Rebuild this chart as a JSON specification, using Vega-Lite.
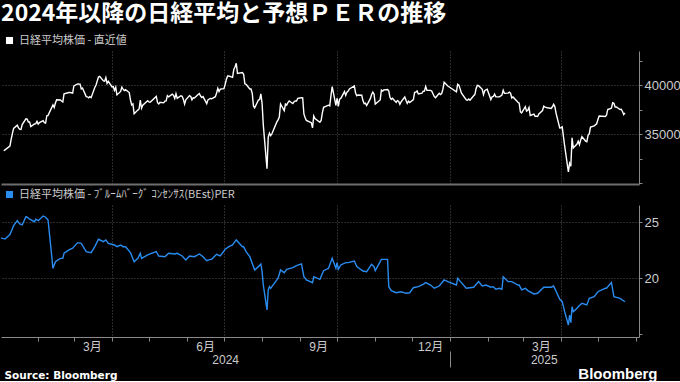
{
"$schema": "https://vega.github.io/schema/vega-lite/v6.json",
"background": "#000000",
"padding": {"left": 0, "top": 3, "right": 0, "bottom": 0},
"title": {"text": "2024年以降の日経平均と予想ＰＥＲの推移", "anchor": "start", "font": "Noto Sans CJK JP", "fontSize": 23, "fontWeight": "bold", "color": "#ffffff", "offset": 9, "dx": 1},
"spacing": 5,
"resolve": {"scale": {"color": "independent", "x": "independent", "y": "independent"}, "legend": {"color": "independent"}},
"datasets": {
"nk": [
{"d":"2024-01-04","v":33288},{"d":"2024-01-05","v":33377},{"d":"2024-01-09","v":33763},{"d":"2024-01-10","v":34441},{"d":"2024-01-11","v":35049},{"d":"2024-01-12","v":35577},{"d":"2024-01-15","v":35901},{"d":"2024-01-16","v":35619},{"d":"2024-01-17","v":35477},{"d":"2024-01-18","v":35466},{"d":"2024-01-19","v":35963},{"d":"2024-01-22","v":36546},{"d":"2024-01-23","v":36517},{"d":"2024-01-24","v":36226},{"d":"2024-01-25","v":36236},{"d":"2024-01-26","v":35751},{"d":"2024-01-29","v":36026},{"d":"2024-01-30","v":36065},{"d":"2024-01-31","v":36286},
{"d":"2024-02-01","v":36011},{"d":"2024-02-02","v":36158},{"d":"2024-02-05","v":36354},{"d":"2024-02-06","v":36160},{"d":"2024-02-07","v":36119},{"d":"2024-02-08","v":36863},{"d":"2024-02-09","v":36897},{"d":"2024-02-13","v":37963},{"d":"2024-02-14","v":37703},{"d":"2024-02-15","v":38157},{"d":"2024-02-16","v":38487},{"d":"2024-02-19","v":38470},{"d":"2024-02-20","v":38363},{"d":"2024-02-21","v":38262},{"d":"2024-02-22","v":39098},{"d":"2024-02-26","v":39233},{"d":"2024-02-27","v":39239},{"d":"2024-02-28","v":39208},{"d":"2024-02-29","v":39166},
{"d":"2024-03-01","v":39910},{"d":"2024-03-04","v":40109},{"d":"2024-03-05","v":40097},{"d":"2024-03-06","v":40090},{"d":"2024-03-07","v":39598},{"d":"2024-03-08","v":39688},{"d":"2024-03-11","v":38820},{"d":"2024-03-12","v":38797},{"d":"2024-03-13","v":38696},{"d":"2024-03-14","v":38807},{"d":"2024-03-15","v":38708},{"d":"2024-03-18","v":39740},{"d":"2024-03-19","v":40003},{"d":"2024-03-21","v":40815},{"d":"2024-03-22","v":40888},{"d":"2024-03-25","v":40414},{"d":"2024-03-26","v":40398},{"d":"2024-03-27","v":40762},{"d":"2024-03-28","v":40168},{"d":"2024-03-29","v":40369},
{"d":"2024-04-01","v":39803},{"d":"2024-04-02","v":39838},{"d":"2024-04-03","v":39451},{"d":"2024-04-04","v":39773},{"d":"2024-04-05","v":38992},{"d":"2024-04-08","v":39347},{"d":"2024-04-09","v":39773},{"d":"2024-04-10","v":39581},{"d":"2024-04-11","v":39442},{"d":"2024-04-12","v":39523},{"d":"2024-04-15","v":39232},{"d":"2024-04-16","v":38471},{"d":"2024-04-17","v":37962},{"d":"2024-04-18","v":38079},{"d":"2024-04-19","v":37068},{"d":"2024-04-22","v":37438},{"d":"2024-04-23","v":37552},{"d":"2024-04-24","v":38460},{"d":"2024-04-25","v":37628},{"d":"2024-04-26","v":37934},{"d":"2024-04-30","v":38405},
{"d":"2024-05-01","v":38274},{"d":"2024-05-02","v":38236},{"d":"2024-05-07","v":38835},{"d":"2024-05-08","v":38202},{"d":"2024-05-09","v":38073},{"d":"2024-05-10","v":38229},{"d":"2024-05-13","v":38179},{"d":"2024-05-14","v":38356},{"d":"2024-05-15","v":38385},{"d":"2024-05-16","v":38920},{"d":"2024-05-17","v":38787},{"d":"2024-05-20","v":39069},{"d":"2024-05-21","v":38946},{"d":"2024-05-22","v":38617},{"d":"2024-05-23","v":39103},{"d":"2024-05-24","v":38646},{"d":"2024-05-27","v":38900},{"d":"2024-05-28","v":38855},{"d":"2024-05-29","v":38556},{"d":"2024-05-30","v":38054},{"d":"2024-05-31","v":38487},
{"d":"2024-06-03","v":38923},{"d":"2024-06-04","v":38837},{"d":"2024-06-05","v":38490},{"d":"2024-06-06","v":38703},{"d":"2024-06-07","v":38683},{"d":"2024-06-10","v":39038},{"d":"2024-06-11","v":39134},{"d":"2024-06-12","v":38876},{"d":"2024-06-13","v":38720},{"d":"2024-06-14","v":38814},{"d":"2024-06-17","v":38102},{"d":"2024-06-18","v":38482},{"d":"2024-06-19","v":38570},{"d":"2024-06-20","v":38633},{"d":"2024-06-21","v":38596},{"d":"2024-06-24","v":38804},{"d":"2024-06-25","v":39173},{"d":"2024-06-26","v":39667},{"d":"2024-06-27","v":39341},{"d":"2024-06-28","v":39583},
{"d":"2024-07-01","v":39631},{"d":"2024-07-02","v":40074},{"d":"2024-07-03","v":40580},{"d":"2024-07-04","v":40913},{"d":"2024-07-05","v":40912},{"d":"2024-07-08","v":40780},{"d":"2024-07-09","v":41580},{"d":"2024-07-10","v":41831},{"d":"2024-07-11","v":42224},{"d":"2024-07-12","v":41190},{"d":"2024-07-16","v":41275},{"d":"2024-07-17","v":41098},{"d":"2024-07-18","v":40126},{"d":"2024-07-19","v":40063},{"d":"2024-07-22","v":39599},{"d":"2024-07-23","v":39594},{"d":"2024-07-24","v":39154},{"d":"2024-07-25","v":37869},{"d":"2024-07-26","v":37667},{"d":"2024-07-29","v":38468},{"d":"2024-07-30","v":38525},{"d":"2024-07-31","v":39101},
{"d":"2024-08-01","v":38126},{"d":"2024-08-02","v":35909},{"d":"2024-08-05","v":31458},{"d":"2024-08-06","v":34675},{"d":"2024-08-07","v":35089},{"d":"2024-08-08","v":34831},{"d":"2024-08-09","v":35025},{"d":"2024-08-13","v":36232},{"d":"2024-08-14","v":36442},{"d":"2024-08-15","v":36726},{"d":"2024-08-16","v":38062},{"d":"2024-08-19","v":37388},{"d":"2024-08-20","v":38062},{"d":"2024-08-21","v":37951},{"d":"2024-08-22","v":38211},{"d":"2024-08-23","v":38364},{"d":"2024-08-26","v":38110},{"d":"2024-08-27","v":38288},{"d":"2024-08-28","v":38371},{"d":"2024-08-29","v":38362},{"d":"2024-08-30","v":38647},
{"d":"2024-09-02","v":38700},{"d":"2024-09-03","v":38686},{"d":"2024-09-04","v":37047},{"d":"2024-09-05","v":36657},{"d":"2024-09-06","v":36391},{"d":"2024-09-09","v":36215},{"d":"2024-09-10","v":36159},{"d":"2024-09-11","v":35619},{"d":"2024-09-12","v":36833},{"d":"2024-09-13","v":36581},{"d":"2024-09-17","v":36203},{"d":"2024-09-18","v":36380},{"d":"2024-09-19","v":37155},{"d":"2024-09-20","v":37723},{"d":"2024-09-24","v":37940},{"d":"2024-09-25","v":37870},{"d":"2024-09-26","v":38925},{"d":"2024-09-27","v":39829},{"d":"2024-09-30","v":37919},
{"d":"2024-10-01","v":38651},{"d":"2024-10-02","v":37808},{"d":"2024-10-03","v":38552},{"d":"2024-10-04","v":38635},{"d":"2024-10-07","v":39332},{"d":"2024-10-08","v":38937},{"d":"2024-10-09","v":39277},{"d":"2024-10-10","v":39380},{"d":"2024-10-11","v":39605},{"d":"2024-10-15","v":39910},{"d":"2024-10-16","v":39180},{"d":"2024-10-17","v":38911},{"d":"2024-10-18","v":38981},{"d":"2024-10-21","v":38954},{"d":"2024-10-22","v":38411},{"d":"2024-10-23","v":38104},{"d":"2024-10-24","v":38143},{"d":"2024-10-25","v":37913},{"d":"2024-10-28","v":38605},{"d":"2024-10-29","v":39027},{"d":"2024-10-30","v":39277},{"d":"2024-10-31","v":39081},
{"d":"2024-11-01","v":38053},{"d":"2024-11-05","v":38474},{"d":"2024-11-06","v":39480},{"d":"2024-11-07","v":39381},{"d":"2024-11-08","v":39500},{"d":"2024-11-11","v":39533},{"d":"2024-11-12","v":39376},{"d":"2024-11-13","v":38721},{"d":"2024-11-14","v":38535},{"d":"2024-11-15","v":38642},{"d":"2024-11-18","v":38220},{"d":"2024-11-19","v":38414},{"d":"2024-11-20","v":38352},{"d":"2024-11-21","v":38026},{"d":"2024-11-22","v":38283},{"d":"2024-11-25","v":38780},{"d":"2024-11-26","v":38442},{"d":"2024-11-27","v":38134},{"d":"2024-11-28","v":38349},{"d":"2024-11-29","v":38208},
{"d":"2024-12-02","v":38513},{"d":"2024-12-03","v":39248},{"d":"2024-12-04","v":39276},{"d":"2024-12-05","v":39395},{"d":"2024-12-06","v":39091},{"d":"2024-12-09","v":39160},{"d":"2024-12-10","v":39367},{"d":"2024-12-11","v":39372},{"d":"2024-12-12","v":39849},{"d":"2024-12-13","v":39470},{"d":"2024-12-16","v":39457},{"d":"2024-12-17","v":39364},{"d":"2024-12-18","v":39081},{"d":"2024-12-19","v":38813},{"d":"2024-12-20","v":38701},{"d":"2024-12-23","v":39161},{"d":"2024-12-24","v":39036},{"d":"2024-12-25","v":39130},{"d":"2024-12-26","v":39568},{"d":"2024-12-27","v":40281},{"d":"2024-12-30","v":39894},
{"d":"2025-01-06","v":39307},{"d":"2025-01-07","v":40083},{"d":"2025-01-08","v":39981},{"d":"2025-01-09","v":39605},{"d":"2025-01-10","v":39190},{"d":"2025-01-14","v":38474},{"d":"2025-01-15","v":38444},{"d":"2025-01-16","v":38572},{"d":"2025-01-17","v":38451},{"d":"2025-01-20","v":38902},{"d":"2025-01-21","v":39027},{"d":"2025-01-22","v":39646},{"d":"2025-01-23","v":39958},{"d":"2025-01-24","v":39931},{"d":"2025-01-27","v":39565},{"d":"2025-01-28","v":39016},{"d":"2025-01-29","v":39414},{"d":"2025-01-30","v":39513},{"d":"2025-01-31","v":39572},
{"d":"2025-02-03","v":38520},{"d":"2025-02-04","v":38798},{"d":"2025-02-05","v":38831},{"d":"2025-02-06","v":39066},{"d":"2025-02-07","v":38787},{"d":"2025-02-10","v":38801},{"d":"2025-02-12","v":38963},{"d":"2025-02-13","v":39461},{"d":"2025-02-14","v":39149},{"d":"2025-02-17","v":39174},{"d":"2025-02-18","v":39270},{"d":"2025-02-19","v":39164},{"d":"2025-02-20","v":38678},{"d":"2025-02-21","v":38776},{"d":"2025-02-25","v":38237},{"d":"2025-02-26","v":38142},{"d":"2025-02-27","v":37256},{"d":"2025-02-28","v":37155},
{"d":"2025-03-03","v":37785},{"d":"2025-03-04","v":37331},{"d":"2025-03-05","v":37418},{"d":"2025-03-06","v":37704},{"d":"2025-03-07","v":36887},{"d":"2025-03-10","v":37028},{"d":"2025-03-11","v":36793},{"d":"2025-03-12","v":36819},{"d":"2025-03-13","v":36790},{"d":"2025-03-14","v":37053},{"d":"2025-03-17","v":37396},{"d":"2025-03-18","v":37845},{"d":"2025-03-19","v":37751},{"d":"2025-03-21","v":37677},{"d":"2025-03-24","v":37608},{"d":"2025-03-25","v":37780},{"d":"2025-03-26","v":38027},{"d":"2025-03-27","v":37799},{"d":"2025-03-28","v":37120},{"d":"2025-03-31","v":35617},
{"d":"2025-04-01","v":35624},{"d":"2025-04-02","v":35725},{"d":"2025-04-03","v":34735},{"d":"2025-04-04","v":33780},{"d":"2025-04-07","v":31136},{"d":"2025-04-08","v":32013},{"d":"2025-04-09","v":31714},{"d":"2025-04-10","v":34609},{"d":"2025-04-11","v":33586},{"d":"2025-04-14","v":33982},{"d":"2025-04-15","v":34267},{"d":"2025-04-16","v":33920},{"d":"2025-04-17","v":34377},{"d":"2025-04-18","v":34730},{"d":"2025-04-21","v":34280},{"d":"2025-04-22","v":34221},{"d":"2025-04-23","v":34868},{"d":"2025-04-24","v":35039},{"d":"2025-04-25","v":35705},{"d":"2025-04-28","v":35839},{"d":"2025-04-30","v":36045},
{"d":"2025-05-01","v":36452},{"d":"2025-05-02","v":36831},{"d":"2025-05-07","v":36780},{"d":"2025-05-08","v":36928},{"d":"2025-05-09","v":37504},{"d":"2025-05-12","v":37644},{"d":"2025-05-13","v":38183},{"d":"2025-05-14","v":38128},{"d":"2025-05-15","v":37755},{"d":"2025-05-16","v":37753},{"d":"2025-05-19","v":37498},{"d":"2025-05-20","v":37529},{"d":"2025-05-21","v":37299},{"d":"2025-05-22","v":36985},{"d":"2025-05-23","v":37160}
],
"per": [
{"d":"2024-01-01","v":23.63},{"d":"2024-01-05","v":23.5},{"d":"2024-01-09","v":23.9},{"d":"2024-01-10","v":24.16},{"d":"2024-01-12","v":24.7},{"d":"2024-01-15","v":25.14},{"d":"2024-01-17","v":24.85},{"d":"2024-01-19","v":24.76},{"d":"2024-01-22","v":25.5},{"d":"2024-01-23","v":25.45},{"d":"2024-01-25","v":25.27},{"d":"2024-01-29","v":25.05},{"d":"2024-01-30","v":25.27},{"d":"2024-02-01","v":25.14},{"d":"2024-02-05","v":25.56},{"d":"2024-02-07","v":25.45},{"d":"2024-02-09","v":25.2},{"d":"2024-02-13","v":20.89},{"d":"2024-02-14","v":21.19},{"d":"2024-02-15","v":21.48},{"d":"2024-02-19","v":21.78},{"d":"2024-02-21","v":21.78},{"d":"2024-02-22","v":22.23},{"d":"2024-02-26","v":22.53},{"d":"2024-02-29","v":22.68},
{"d":"2024-03-04","v":23.18},{"d":"2024-03-07","v":23.12},{"d":"2024-03-11","v":22.38},{"d":"2024-03-15","v":22.29},{"d":"2024-03-18","v":22.82},{"d":"2024-03-21","v":23.48},{"d":"2024-03-25","v":23.27},{"d":"2024-03-27","v":23.42},{"d":"2024-03-29","v":23.12},{"d":"2024-04-03","v":22.97},{"d":"2024-04-05","v":22.82},{"d":"2024-04-08","v":22.97},{"d":"2024-04-10","v":22.82},{"d":"2024-04-12","v":22.82},{"d":"2024-04-16","v":22.29},{"d":"2024-04-19","v":21.48},{"d":"2024-04-22","v":21.78},{"d":"2024-04-24","v":22.23},{"d":"2024-04-25","v":21.78},{"d":"2024-04-30","v":22.08},
{"d":"2024-05-02","v":22.17},{"d":"2024-05-07","v":22.38},{"d":"2024-05-09","v":21.99},{"d":"2024-05-14","v":21.93},{"d":"2024-05-17","v":22.23},{"d":"2024-05-22","v":22.17},{"d":"2024-05-24","v":22.23},{"d":"2024-05-28","v":21.99},{"d":"2024-05-31","v":21.63},{"d":"2024-06-03","v":21.99},{"d":"2024-06-07","v":21.93},{"d":"2024-06-11","v":22.17},{"d":"2024-06-14","v":21.93},{"d":"2024-06-17","v":21.57},{"d":"2024-06-20","v":21.69},{"d":"2024-06-21","v":21.69},{"d":"2024-06-25","v":22.14},{"d":"2024-06-28","v":21.99},
{"d":"2024-07-02","v":22.59},{"d":"2024-07-05","v":22.82},{"d":"2024-07-08","v":22.97},{"d":"2024-07-11","v":23.42},{"d":"2024-07-16","v":22.82},{"d":"2024-07-17","v":22.82},{"d":"2024-07-19","v":22.38},{"d":"2024-07-22","v":21.93},{"d":"2024-07-26","v":20.74},{"d":"2024-07-29","v":21.04},{"d":"2024-07-31","v":21.28},{"d":"2024-08-01","v":20.59},{"d":"2024-08-02","v":19.4},{"d":"2024-08-05","v":17.17},{"d":"2024-08-06","v":18.96},{"d":"2024-08-07","v":19.25},{"d":"2024-08-08","v":19.11},{"d":"2024-08-09","v":19.25},{"d":"2024-08-14","v":20.0},{"d":"2024-08-16","v":20.74},{"d":"2024-08-19","v":20.5},{"d":"2024-08-21","v":20.8},{"d":"2024-08-26","v":20.95},{"d":"2024-08-29","v":21.13},
{"d":"2024-09-02","v":21.28},{"d":"2024-09-04","v":20.14},{"d":"2024-09-06","v":19.85},{"d":"2024-09-11","v":19.61},{"d":"2024-09-12","v":20.14},{"d":"2024-09-17","v":19.91},{"d":"2024-09-20","v":20.68},{"d":"2024-09-24","v":20.89},{"d":"2024-09-27","v":21.78},{"d":"2024-09-30","v":20.89},{"d":"2024-10-01","v":21.4},{"d":"2024-10-02","v":20.8},{"d":"2024-10-04","v":21.19},{"d":"2024-10-08","v":21.4},{"d":"2024-10-10","v":21.4},{"d":"2024-10-15","v":21.54},{"d":"2024-10-17","v":21.04},{"d":"2024-10-22","v":20.65},{"d":"2024-10-25","v":20.59},{"d":"2024-10-29","v":21.25},{"d":"2024-10-31","v":21.04},
{"d":"2024-11-01","v":20.68},{"d":"2024-11-06","v":21.69},{"d":"2024-11-11","v":21.69},{"d":"2024-11-12","v":19.25},{"d":"2024-11-14","v":18.9},{"d":"2024-11-18","v":18.71},{"d":"2024-11-22","v":18.8},{"d":"2024-11-26","v":18.66},{"d":"2024-11-29","v":18.71},{"d":"2024-12-02","v":19.16},{"d":"2024-12-06","v":19.25},{"d":"2024-12-10","v":19.46},{"d":"2024-12-12","v":19.61},{"d":"2024-12-16","v":19.4},{"d":"2024-12-19","v":19.11},{"d":"2024-12-23","v":19.31},{"d":"2024-12-27","v":19.85},{"d":"2024-12-30","v":19.7},
{"d":"2025-01-06","v":19.4},{"d":"2025-01-07","v":20.0},{"d":"2025-01-10","v":19.61},{"d":"2025-01-14","v":19.11},{"d":"2025-01-20","v":19.2},{"d":"2025-01-24","v":19.7},{"d":"2025-01-27","v":19.31},{"d":"2025-01-30","v":19.4},{"d":"2025-02-03","v":19.2},{"d":"2025-02-05","v":19.25},{"d":"2025-02-07","v":19.02},{"d":"2025-02-10","v":19.11},{"d":"2025-02-12","v":19.02},{"d":"2025-02-13","v":20.14},{"d":"2025-02-17","v":19.7},{"d":"2025-02-20","v":19.7},{"d":"2025-02-25","v":19.4},{"d":"2025-02-26","v":19.4},{"d":"2025-02-28","v":18.96},
{"d":"2025-03-03","v":19.11},{"d":"2025-03-05","v":18.9},{"d":"2025-03-10","v":18.6},{"d":"2025-03-13","v":18.66},{"d":"2025-03-18","v":19.2},{"d":"2025-03-24","v":19.2},{"d":"2025-03-26","v":19.31},{"d":"2025-03-31","v":18.12},{"d":"2025-04-02","v":17.91},{"d":"2025-04-04","v":17.02},{"d":"2025-04-07","v":15.83},{"d":"2025-04-08","v":16.72},{"d":"2025-04-09","v":16.04},{"d":"2025-04-10","v":17.46},{"d":"2025-04-11","v":17.02},{"d":"2025-04-14","v":17.32},{"d":"2025-04-15","v":17.46},{"d":"2025-04-18","v":17.77},{"d":"2025-04-22","v":17.62},{"d":"2025-04-24","v":18.21},{"d":"2025-04-28","v":18.36},
{"d":"2025-05-01","v":18.8},{"d":"2025-05-07","v":19.11},{"d":"2025-05-08","v":19.11},{"d":"2025-05-12","v":19.61},{"d":"2025-05-14","v":18.36},{"d":"2025-05-19","v":18.21},{"d":"2025-05-23","v":17.91}
]
},
"vconcat": [
{
"width": 638, "height": 133,
"data": {"name": "nk"},
"mark": {"type": "line", "strokeWidth": 1.4, "clip": true},
"encoding": {
"x": {"field": "d", "type": "temporal",
"scale": {"type": "utc", "domain": [{"year": 2024, "month": 1, "date": 1, "hours": 18, "utc": true}, {"year": 2025, "month": 6, "date": 3, "hours": 10, "utc": true}]},
"axis": {"title": null, "labels": false, "ticks": false, "grid": true, "domainColor": "#6e6e6e", "domainWidth": 2,
"values": [{"year": 2024, "month": 4, "date": 1, "utc": true}, {"year": 2024, "month": 7, "date": 1, "utc": true}, {"year": 2024, "month": 10, "date": 1, "utc": true}, {"year": 2025, "month": 1, "date": 1, "utc": true}, {"year": 2025, "month": 4, "date": 1, "utc": true}]}},
"y": {"field": "v", "type": "quantitative",
"scale": {"domain": [29900, 43470], "nice": false, "zero": false},
"axis": {"orient": "right", "title": null, "values": [30000, 32500, 35000, 37500, 40000, 42500], "tickSize": 3, "labelPadding": 2,
"labelExpr": "datum.value == 35000 || datum.value == 40000 ? format(datum.value, 'd') : ''",
"grid": true, "gridOpacity": {"condition": {"test": "datum.value == 35000 || datum.value == 40000", "value": 1}, "value": 0}}},
"color": {"datum": "日経平均株価 - 直近値", "type": "nominal",
"scale": {"range": ["#ffffff"]},
"legend": {"title": null, "orient": "none", "legendX": 3, "legendY": -16, "symbolFillColor": "#ffffff", "symbolStrokeColor": "#ffffff"}}
}
},
{
"width": 638, "height": 132,
"data": {"name": "per"},
"resolve": {"axis": {"x": "independent"}},
"layer": [
{
"mark": {"type": "line", "strokeWidth": 1.4, "clip": true},
"encoding": {
"x": {"field": "d", "type": "temporal",
"scale": {"type": "utc", "domain": [{"year": 2024, "month": 1, "date": 1, "hours": 18, "utc": true}, {"year": 2025, "month": 6, "date": 3, "hours": 10, "utc": true}]},
"axis": {"orient": "bottom", "grid": true, "ticks": true, "tickSize": 4, "labelPadding": 0, "labelOffset": 18, "labelOverlap": false, "labelFlush": false, "labelBound": false, "labelFontSize": 12,
"gridOpacity": {"condition": {"test": "utcmonth(datum.value) % 3 == 0", "value": 1}, "value": 0},
"labelExpr": "datum.value < datetime(2025, 3, 1) && indexof([2, 5, 8, 11], utcmonth(datum.value)) >= 0 ? (utcmonth(datum.value) + 1) + '月' : ''",
"values": [{"year": 2024, "month": 2, "date": 1, "utc": true}, {"year": 2024, "month": 3, "date": 1, "utc": true}, {"year": 2024, "month": 4, "date": 1, "utc": true}, {"year": 2024, "month": 5, "date": 1, "utc": true}, {"year": 2024, "month": 6, "date": 1, "utc": true}, {"year": 2024, "month": 7, "date": 1, "utc": true}, {"year": 2024, "month": 8, "date": 1, "utc": true}, {"year": 2024, "month": 9, "date": 1, "utc": true}, {"year": 2024, "month": 10, "date": 1, "utc": true}, {"year": 2024, "month": 11, "date": 1, "utc": true}, {"year": 2024, "month": 12, "date": 1, "utc": true}, {"year": 2025, "month": 1, "date": 1, "utc": true}, {"year": 2025, "month": 2, "date": 1, "utc": true}, {"year": 2025, "month": 3, "date": 1, "utc": true}, {"year": 2025, "month": 4, "date": 1, "utc": true}, {"year": 2025, "month": 5, "date": 1, "utc": true}, {"year": 2025, "month": 6, "date": 1, "utc": true}],
"title": "Source: Bloomberg", "titleX": 3, "titleY": 41, "titleAlign": "left", "titleAnchor": "start", "titleBaseline": "alphabetic", "titleFont": "DejaVu Sans", "titleFontSize": 10.5, "titleFontWeight": "bold", "titleColor": "#ffffff"}},
"y": {"field": "v", "type": "quantitative",
"scale": {"domain": [14.76, 26.54], "nice": false, "zero": false},
"axis": {"orient": "right", "title": null, "values": [15, 17.5, 20, 22.5, 25], "tickSize": 3, "labelPadding": 2,
"labelExpr": "datum.value == 20 || datum.value == 25 ? format(datum.value, 'd') : ''",
"grid": true, "gridOpacity": {"condition": {"test": "datum.value == 20 || datum.value == 25", "value": 1}, "value": 0}}},
"color": {"datum": "日経平均株価 - ﾌﾞﾙｰﾑﾊﾞｰｸﾞ ｺﾝｾﾝｻｽ(BEst)PER", "type": "nominal",
"scale": {"range": ["#2a8cf0"]},
"legend": {"title": null, "orient": "none", "legendX": 3, "legendY": -16, "symbolFillColor": "#2a8cf0", "symbolStrokeColor": "#2a8cf0"}}
}
},
{
"mark": {"type": "line", "opacity": 0},
"encoding": {
"x": {"field": "d", "type": "temporal",
"scale": {"type": "utc", "domain": [{"year": 2024, "month": 1, "date": 1, "hours": 18, "utc": true}, {"year": 2025, "month": 6, "date": 3, "hours": 10, "utc": true}]},
"axis": {"orient": "bottom", "offset": 14, "domain": false, "grid": false, "ticks": true, "tickSize": 16, "labelPadding": -13, "labelFontSize": 12, "labelOverlap": false, "labelFlush": false, "labelBound": false,
"tickOpacity": {"condition": {"test": "utcmonth(datum.value) == 0", "value": 1}, "value": 0},
"labelExpr": "utcmonth(datum.value) == 0 ? '' : utcFormat(datum.value, '%Y')",
"values": [{"year": 2024, "month": 7, "date": 2, "utc": true}, {"year": 2025, "month": 1, "date": 1, "utc": true}, {"year": 2025, "month": 3, "date": 18, "utc": true}],
"title": "Bloomberg", "titleX": 656, "titleY": 27, "titleAlign": "right", "titleAnchor": "end", "titleBaseline": "alphabetic", "titleFont": "Liberation Sans", "titleFontSize": 15, "titleFontWeight": "bold", "titleColor": "#ffffff"}},
"y": {"field": "v", "type": "quantitative", "scale": {"domain": [14.76, 26.54], "nice": false, "zero": false}}
}
}
]
}
],
"config": {
"view": {"stroke": null},
"axis": {"domainColor": "#8a8a8a", "tickColor": "#8a8a8a", "labelColor": "#cccccc", "labelFont": "Liberation Sans, Noto Sans CJK JP", "labelFontSize": 13, "gridColor": "#555555", "gridDash": [1, 2], "gridWidth": 1},
"legend": {"labelColor": "#cccccc", "labelFont": "Noto Sans CJK JP", "labelFontSize": 11, "symbolType": "square", "symbolSize": 50, "symbolStrokeWidth": 0, "labelLimit": 400, "labelOffset": 4}
}
}
